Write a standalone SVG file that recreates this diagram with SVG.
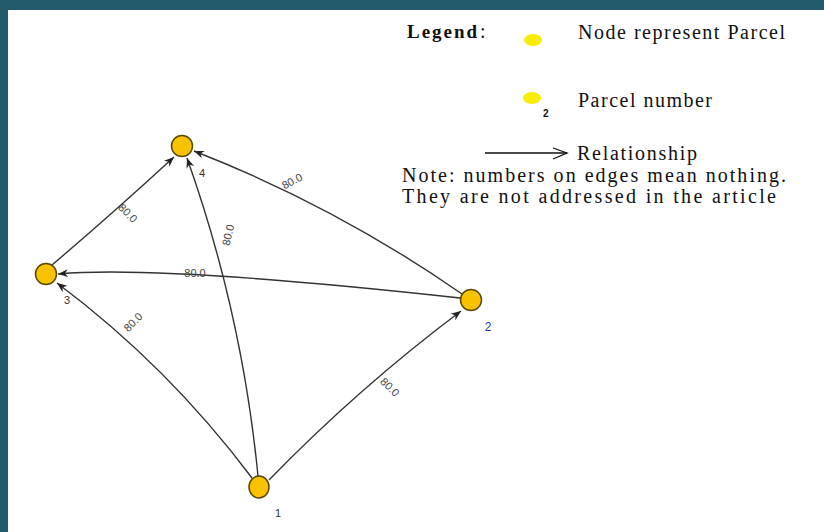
<svg xmlns="http://www.w3.org/2000/svg" width="824" height="532" viewBox="0 0 824 532">
<style>
.edge{fill:none;stroke:#333;stroke-width:1.4;marker-end:url(#ah)}
.node{fill:#f8c200;stroke:#5a4a00;stroke-width:1.5}
.nl{font-family:"Liberation Sans",Arial,sans-serif;font-size:11px;fill:#333;text-anchor:middle;dominant-baseline:central}
.el{font-family:"Liberation Sans",Arial,sans-serif;font-size:11px;fill:#444;text-anchor:middle;dominant-baseline:central}
.lg{font-family:"Liberation Serif","Times New Roman",serif;font-size:20px;fill:#111}
.ly{fill:#f8ee00}
</style>
<defs>
<marker id="ah" viewBox="0 0 10 10" markerWidth="10" markerHeight="10" refX="10" refY="5" orient="auto" markerUnits="userSpaceOnUse">
<path d="M0,1 L10,5 L0,9 L3,5 z" fill="#222"/>
</marker>
</defs>
<rect x="0" y="0" width="824" height="532" fill="#22596b"/>
<rect x="8" y="10" width="816" height="522" fill="#ffffff"/>

<g id="connectors">
<path class="edge" d="M258,476 Q242,312.6 187,158"/>
<path class="edge" d="M462,294 Q336.5,206.6 194,151"/>
<path class="edge" d="M460,298 Q160,265 58,274"/>
<path class="edge" d="M52,265 Q112,214 174,157"/>
<path class="edge" d="M252,478 Q168,366 57,283"/>
<path class="edge" d="M269,480 Q358.4,388 461,311"/>
<text class="el" transform="translate(228,235) rotate(-77)">80.0</text>
<text class="el" transform="translate(292,181) rotate(-28)">80.0</text>
<text class="el" transform="translate(195,273)">80.0</text>
<text class="el" transform="translate(128,213) rotate(45)">80.0</text>
<text class="el" transform="translate(133,322) rotate(-45)">80.0</text>
<text class="el" transform="translate(390,387) rotate(45)">80.0</text>
</g>

<g id="node1">
<ellipse class="node" cx="259" cy="487" rx="10" ry="11"/>
<text class="nl" x="278" y="513">1</text>
</g>
<g id="node2">
<circle class="node" cx="471" cy="300" r="10.5"/>
<text class="nl" x="488" y="327" style="fill:#3333cc;font-size:12px">2</text>
</g>
<g id="node3">
<circle class="node" cx="46" cy="274" r="10.5"/>
<text class="nl" x="67" y="300">3</text>
</g>
<g id="node4">
<circle class="node" cx="182" cy="146" r="10.5"/>
<text class="nl" x="202" y="173">4</text>
</g>

<g id="legend">
<text class="lg" x="407" y="38" textLength="70" lengthAdjust="spacing" style="font-weight:bold;font-size:19px">Legend</text>
<text class="lg" x="480" y="38">:</text>
<ellipse class="ly" cx="533" cy="40" rx="9" ry="6"/>
<text class="lg" x="578" y="39" textLength="207" lengthAdjust="spacing">Node represent Parcel</text>
<ellipse class="ly" cx="532" cy="98" rx="9" ry="6"/>
<text x="543" y="117" style="font-family:'Liberation Sans',Arial,sans-serif;font-size:10px;font-weight:bold;fill:#111">2</text>
<text class="lg" x="578" y="107" textLength="134" lengthAdjust="spacing">Parcel number</text>
<line x1="485" y1="153" x2="567" y2="153" stroke="#111" stroke-width="1.3"/>
<polyline points="553,148 567,153 553,159" fill="none" stroke="#111" stroke-width="1.3"/>
<text class="lg" x="577" y="160" textLength="120" lengthAdjust="spacing">Relationship</text>
<text class="lg" x="402" y="182" textLength="384" lengthAdjust="spacing">Note: numbers on edges mean nothing.</text>
<text class="lg" x="402" y="203" textLength="374" lengthAdjust="spacing">They are not addressed in the article</text>
</g>
</svg>
